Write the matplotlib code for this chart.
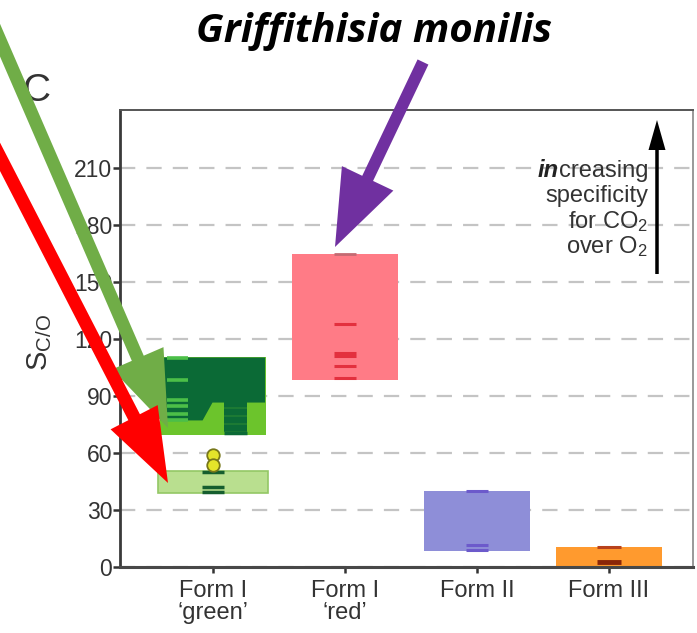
import numpy as np
import matplotlib
matplotlib.use("Agg")
import matplotlib.pyplot as plt
from matplotlib.patches import Polygon, Rectangle
from matplotlib.transforms import Affine2D

plt.rcParams['font.family'] = ['Liberation Sans', 'DejaVu Sans']
plt.rcParams['mathtext.fontset'] = 'custom'
plt.rcParams['mathtext.rm'] = 'Liberation Sans'
plt.rcParams['mathtext.it'] = 'Liberation Sans:italic'
plt.rcParams['mathtext.bf'] = 'Liberation Sans:bold'
plt.rcParams['lines.scale_dashes'] = False

# ---------------- data ----------------
categories = ["Form I\n\u2018green\u2019", "Form I\n\u2018red\u2019", "Form II", "Form III"]
yticks = [0, 30, 60, 90, 120, 150, 180, 210]

# Form I 'green' (upper box: two groups, lower box: one group)
green_upper_range = [69.5, 110.5]
green_dark_x = [-0.40, -0.083, -0.008, 0.39]
green_dark_bottom = [77.4, 77.4, 86.8, 86.8]
green_upper_left_values = [110.0, 98.4, 88.0, 84.5, 80.5, 77.5]
green_upper_right_values = [85.6, 81.4, 77.2, 73.0]
green_upper_right_low = [70.4]
green_lower_range = [39.0, 50.5]
green_lower_values = [50.0, 42.0, 39.5]
green_points = [59.0, 53.7]

# Form I 'red'
red_range = [98.4, 164.7]
red_values = [164.8, 128.0, 112.6, 110.8, 105.8, 99.5]

# Form II
form2_range = [8.4, 40.0]
form2_values = [40.0, 11.6, 9.0]

# Form III
form3_range = [0.0, 10.5]
form3_values = [10.5, 2.6]

# ---------------- figure ----------------
W, H = 697, 633
fig = plt.figure(figsize=(W / 100, H / 100), dpi=100)
ax = fig.add_axes([120 / W, 66 / H, 573 / W, 457 / H])
ax.set_xlim(-0.705, 3.636)
ax.set_ylim(0, 240.5)

ax.set_axisbelow(True)
ax.yaxis.grid(True, color='#c4c4c4', linewidth=1.6, linestyle=(0, (11, 8)))
ax.xaxis.grid(False)

BW = 0.8
# Form I green upper box
x0 = 0
ax.add_patch(Rectangle((x0 - BW / 2, green_upper_range[0]), BW,
                       green_upper_range[1] - green_upper_range[0],
                       facecolor='#6cc42c', edgecolor='none', zorder=2))
ax.fill_between(np.array(green_dark_x) + x0, green_dark_bottom, green_upper_range[1],
                color='#0b6a36', linewidth=0, zorder=3)
ax.hlines(green_upper_left_values, x0 - 0.35, x0 - 0.19, color='#4cbf48', linewidth=2.6, zorder=4)
ax.hlines(green_upper_right_values, x0 + 0.085, x0 + 0.255, color='#0b6a36', linewidth=5.5, zorder=4)
ax.hlines(green_upper_right_low, x0 + 0.085, x0 + 0.255, color='#0b6a36', linewidth=2.5, zorder=4)
# lower box
ax.add_patch(Rectangle((x0 - 0.415, green_lower_range[0]), 0.83,
                       green_lower_range[1] - green_lower_range[0],
                       facecolor='#b9df8f', edgecolor='#93c765', linewidth=1.2, zorder=2))
ax.hlines(green_lower_values, x0 - 0.08, x0 + 0.08, color='#155e2e', linewidth=2.5, zorder=4)
ax.plot([x0] * len(green_points), green_points, 'o', markersize=9,
        markerfacecolor='#e4e42a', markeredgecolor='#77771a', markeredgewidth=1.3, zorder=5)

# Form I red
x1 = 1
ax.add_patch(Rectangle((x1 - BW / 2, red_range[0]), BW, red_range[1] - red_range[0],
                       facecolor='#ff7b86', edgecolor='none', zorder=2))
ax.hlines(red_values[0], x1 - 0.08, x1 + 0.08, color='#c46a72', linewidth=2, zorder=4)
ax.hlines(red_values[1:], x1 - 0.08, x1 + 0.08, color='#e3303e', linewidth=2.2, zorder=4)

# Form II
x2 = 2
ax.add_patch(Rectangle((x2 - BW / 2, form2_range[0]), BW, form2_range[1] - form2_range[0],
                       facecolor='#8e8ed8', edgecolor='none', zorder=2))
ax.hlines(form2_values, x2 - 0.08, x2 + 0.08, color='#6c5acb', linewidth=2.2, zorder=4)

# Form III
x3 = 3
ax.add_patch(Rectangle((x3 - BW / 2, form3_range[0]), BW, form3_range[1] - form3_range[0],
                       facecolor='#ff9a2e', edgecolor='none', zorder=2))
ax.hlines(form3_values[0], x3 - 0.09, x3 + 0.09, color='#b8421c', linewidth=2.2, zorder=4)
ax.hlines(form3_values[1], x3 - 0.09, x3 + 0.09, color='#8a2608', linewidth=3.5, zorder=4)

# axes styling
ax.set_xticks(range(len(categories)))
ax.set_xticklabels(categories, fontsize=17, color='#333333', linespacing=1.0)
ax.set_yticks(yticks)
ax.set_yticklabels([str(v) for v in yticks], fontsize=16.5, color='#333333')
ax.tick_params(axis='y', direction='out', length=5, width=1.8, color='#333333', pad=0.5)
ax.tick_params(axis='x', direction='out', length=4.5, width=1.8, color='#333333', pad=5)
for side, lw, col in [('left', 2.0, '#3a3a3a'), ('bottom', 2.2, '#484848'),
                      ('top', 1.4, '#555555'), ('right', 1.2, '#888888')]:
    ax.spines[side].set_linewidth(lw)
    ax.spines[side].set_color(col)
    ax.spines[side].set_zorder(6)

# ---------------- overlay text ----------------
px = Affine2D().scale(1 / W, -1 / H).translate(0, 1) + fig.transFigure

fig.text(374 / W, 1 - 42 / H, "Griffithisia monilis", family=['Open Sans', 'DejaVu Sans'],
         fontsize=29, fontweight='bold', fontstyle='italic', ha='center', va='baseline', color='black')
fig.text(37 / W, 1 - 91 / H, "C", fontsize=28, color='#333333', ha='center', va='center')
fig.text(40 / W, 1 - 343 / H, r"S$_{\mathrm{C/O}}$", fontsize=21, color='#333333',
         rotation=90, ha='center', va='center')

tx = 648 / W
fs = 17
t1 = fig.text(tx, 1 - 177 / H, "creasing", fontsize=fs, color='#333333', ha='right', va='baseline')
fig.text(tx, 1 - 202 / H, "specificity", fontsize=fs, color='#333333', ha='right', va='baseline')
fig.text(tx, 1 - 228 / H, r"for CO$_2$", fontsize=fs, color='#333333', ha='right', va='baseline')
fig.text(tx, 1 - 253 / H, r"over O$_2$", fontsize=fs, color='#333333', ha='right', va='baseline')
renderer = fig.canvas.get_renderer()
bb = t1.get_window_extent(renderer)
fig.text(bb.x0 / fig.bbox.width, 1 - 177 / H, "in", fontsize=fs, color='#222222',
         fontweight='bold', fontstyle='italic', ha='right', va='baseline')

# ---------------- overlay arrows (pixel coordinates) ----------------
def arrow_poly(tail, tip, w, hw, hl):
    tail = np.array(tail, float)
    tip = np.array(tip, float)
    d = tip - tail
    u = d / np.hypot(*d)
    n = np.array([-u[1], u[0]])
    base = tip - u * hl
    return [tail + n * w / 2, base + n * w / 2, base + n * hw / 2, tip,
            base - n * hw / 2, base - n * w / 2, tail - n * w / 2]

arrows = [
    # tail, tip, shaft width, head width, head length, colour
    ((-20, -6), (168, 428), 13, 56, 76, '#70ad47'),
    ((-20, 118), (168, 483), 13, 53, 74, '#ff0000'),
    ((423, 62), (335, 247), 12, 57, 76, '#7030a0'),
    ((657, 274), (657, 120), 3.5, 17, 30, '#000000'),
]
for tail, tip, w, hw, hl, col in arrows:
    fig.add_artist(Polygon(arrow_poly(tail, tip, w, hw, hl), closed=True,
                           facecolor=col, edgecolor='none', transform=px, zorder=10))

fig.savefig("out.png", dpi=100)
